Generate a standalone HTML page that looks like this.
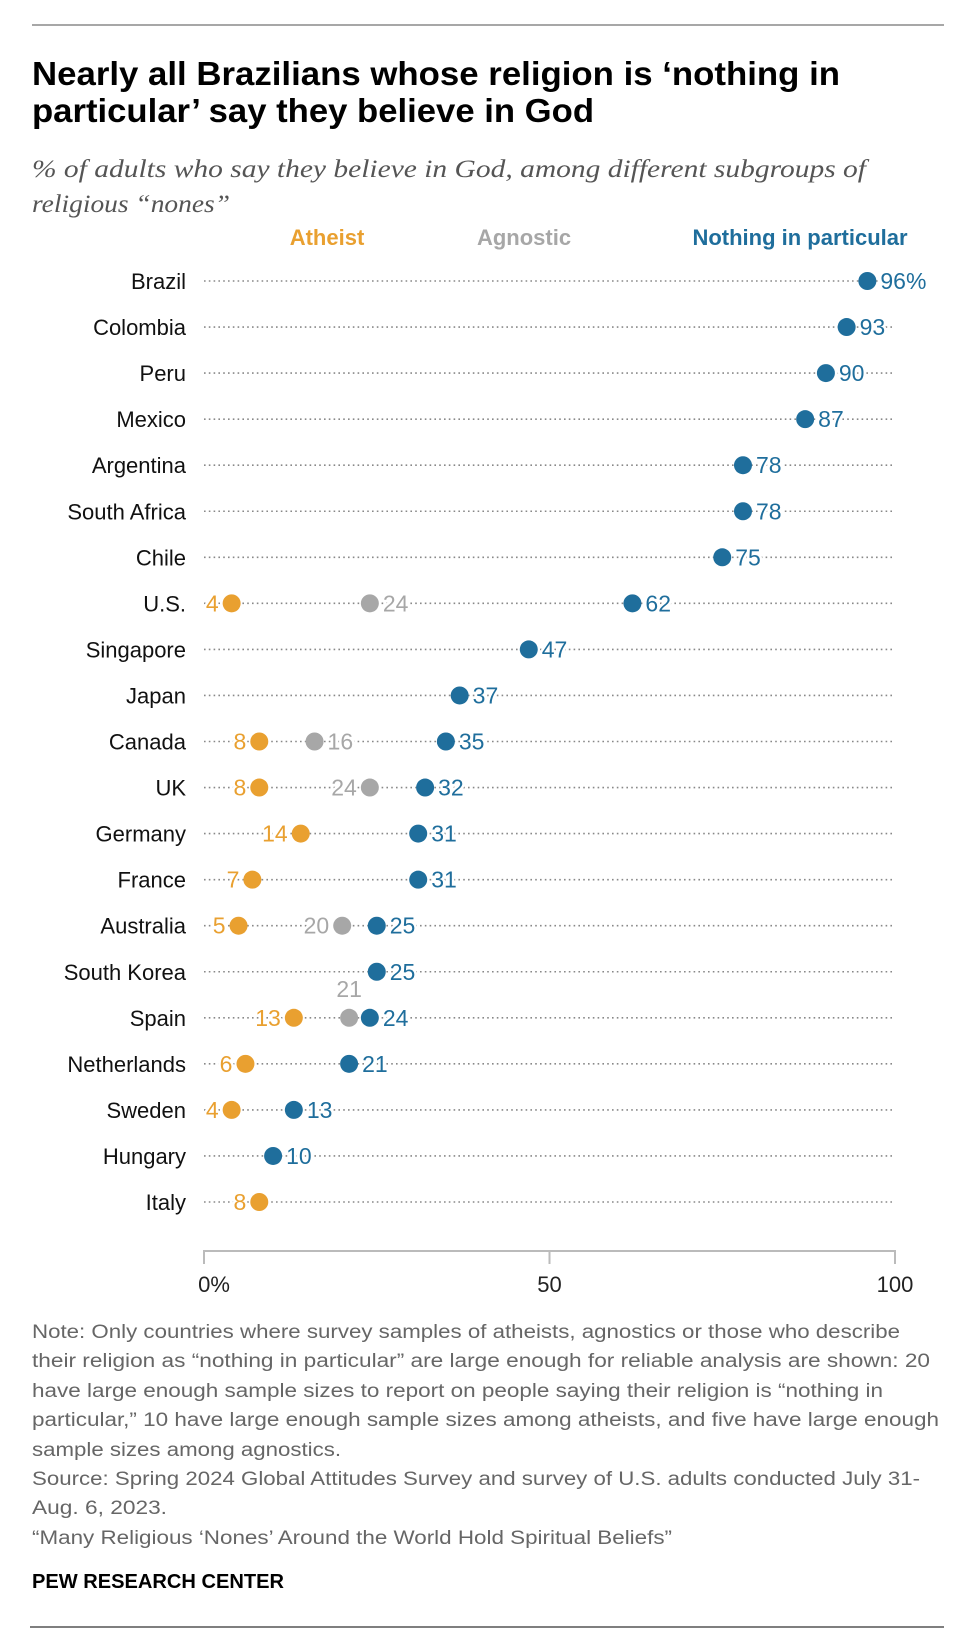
<!DOCTYPE html>
<html><head><meta charset="utf-8">
<style>
html,body{margin:0;padding:0;background:#fff;}
svg{display:block;}
text{font-family:"Liberation Sans",sans-serif;}
</style></head>
<body>
<svg id="chart" width="974" height="1646" viewBox="0 0 974 1646" xmlns="http://www.w3.org/2000/svg">
  <line x1="32" y1="25" x2="944" y2="25" stroke="#8a8a8a" stroke-width="1.5"/>
  <g>
    <text x="32" y="85" font-size="33" font-weight="bold" fill="#000" textLength="808" lengthAdjust="spacingAndGlyphs">Nearly all Brazilians whose religion is ‘nothing in</text>
    <text x="32" y="122" font-size="33" font-weight="bold" fill="#000" textLength="562" lengthAdjust="spacingAndGlyphs">particular’ say they believe in God</text>
  </g>
  <g font-style="italic" fill="#555">
    <text x="32" y="177" font-size="25" style="font-family:'Liberation Serif',serif" textLength="834" lengthAdjust="spacingAndGlyphs">% of adults who say they believe in God, among different subgroups of</text>
    <text x="32" y="212" font-size="25" style="font-family:'Liberation Serif',serif" textLength="198" lengthAdjust="spacingAndGlyphs">religious “nones”</text>
  </g>
  <g font-size="22" font-weight="bold" text-anchor="middle">
    <text x="327" y="245" fill="#e9a030">Atheist</text>
    <text x="524" y="245" fill="#a7a7a7">Agnostic</text>
    <text x="800" y="245" fill="#1f6e9c">Nothing in particular</text>
  </g>
  <g id="rows"></g>
  <g id="axis"></g>
  <g font-size="19" fill="#666">
    <text x="32" y="1338" textLength="868" lengthAdjust="spacingAndGlyphs">Note: Only countries where survey samples of atheists, agnostics or those who describe</text>
    <text x="32" y="1367" textLength="898" lengthAdjust="spacingAndGlyphs">their religion as “nothing in particular” are large enough for reliable analysis are shown: 20</text>
    <text x="32" y="1397" textLength="851" lengthAdjust="spacingAndGlyphs">have large enough sample sizes to report on people saying their religion is “nothing in</text>
    <text x="32" y="1426" textLength="907" lengthAdjust="spacingAndGlyphs">particular,” 10 have large enough sample sizes among atheists, and five have large enough</text>
    <text x="32" y="1456" textLength="309" lengthAdjust="spacingAndGlyphs">sample sizes among agnostics.</text>
    <text x="32" y="1485" textLength="888" lengthAdjust="spacingAndGlyphs">Source: Spring 2024 Global Attitudes Survey and survey of U.S. adults conducted July 31-</text>
    <text x="32" y="1514" textLength="135" lengthAdjust="spacingAndGlyphs">Aug. 6, 2023.</text>
    <text x="32" y="1544" textLength="640" lengthAdjust="spacingAndGlyphs">“Many Religious ‘Nones’ Around the World Hold Spiritual Beliefs”</text>
  </g>
  <text x="32" y="1588" font-size="20" font-weight="bold" fill="#000" textLength="252" lengthAdjust="spacingAndGlyphs">PEW RESEARCH CENTER</text>
  <line x1="30" y1="1627" x2="944" y2="1627" stroke="#555" stroke-width="1.5"/>
</svg>
<script>
const countries = ["Brazil","Colombia","Peru","Mexico","Argentina","South Africa","Chile","U.S.","Singapore","Japan","Canada","UK","Germany","France","Australia","South Korea","Spain","Netherlands","Sweden","Hungary","Italy"];
const nothingValues = [96,93,90,87,78,78,75,62,47,37,35,32,31,31,25,25,24,21,13,10,null];
const atheistValues = [null,null,null,null,null,null,null,4,null,null,8,8,14,7,5,null,13,6,4,null,8];
const agnosticValues = [null,null,null,null,null,null,null,24,null,null,16,24,null,null,20,null,21,null,null,null,null];
const agnosticLabelSide = [null,null,null,null,null,null,null,"right",null,null,"right","left",null,null,"left",null,"top",null,null,null,null];
const tickValues = [0,50,100];
const tickLabels = ["0%","50","100"];

const NS = "http://www.w3.org/2000/svg";
const X0 = 204, X1 = 895, Y0 = 281, ROWH = 46.05, R = 9;
const xScale = v => X0 + (X1 - X0) * v / 100;
const yScale = i => Y0 + i * ROWH;
const COL = {a:"#e9a030", g:"#a7a7a7", n:"#1f6e9c"};

function mk(tag, attrs, parent){
  const el = document.createElementNS(NS, tag);
  for (const k in attrs) el.setAttribute(k, attrs[k]);
  parent.appendChild(el);
  return el;
}
const rows = document.getElementById("rows");
function label(txt, x, y, anchor, color, parent){
  const t = mk("text", {x:x, y:y+8, "text-anchor":anchor, "font-size":23, fill:color, stroke:"#fff", "stroke-width":5, "paint-order":"stroke", "stroke-linejoin":"round"}, parent);
  t.textContent = txt;
  return t;
}
countries.forEach((c, i) => {
  const y = yScale(i);
  const g = mk("g", {}, rows);
  
  
  const ln = mk("line", {x1:X0, y1:y, x2:X1, y2:y, stroke:"#888", "stroke-width":1.6, "stroke-dasharray":"1.6 3.2"}, g);
  
  
  const cl = mk("text", {x:186, y:y+8, "text-anchor":"end", "font-size":22, fill:"#111"}, g);
  cl.textContent = c;
  
  
  const labels = mk("g", {}, g);
  
  
  if (atheistValues[i] != null) {
    const x = xScale(atheistValues[i]);
    const d = mk("circle", {cx:x, cy:y, r:R, fill:COL.a}, g);
    
    
    label(String(atheistValues[i]), x - R - 4, y, "end", COL.a, labels);
  }
  if (agnosticValues[i] != null) {
    const x = xScale(agnosticValues[i]);
    const d = mk("circle", {cx:x, cy:y, r:R, fill:COL.g}, g);
    
    
    const side = agnosticLabelSide[i];
    if (side === "right") label(String(agnosticValues[i]), x + R + 4, y, "start", COL.g, labels);
    else if (side === "left") label(String(agnosticValues[i]), x - R - 4, y, "end", COL.g, labels);
    else label(String(agnosticValues[i]), x, y - 29, "middle", COL.g, labels);
  }
  if (nothingValues[i] != null) {
    const x = xScale(nothingValues[i]);
    const d = mk("circle", {cx:x, cy:y, r:R, fill:COL.n}, g);
    
    
    label(String(nothingValues[i]) + (i === 0 ? "%" : ""), x + R + 4, y, "start", COL.n, labels);
  }
});
const axis = document.getElementById("axis");
const al = mk("line", {x1:X0, y1:1251, x2:X1, y2:1251, stroke:"#bbb", "stroke-width":2}, axis);


tickValues.forEach((v, i) => {
  const x = xScale(v);
  const tk = mk("line", {x1:x, y1:1250, x2:x, y2:1264, stroke:"#bbb", "stroke-width":2}, axis);
  
  
  const t = mk("text", {x: x + (i === 0 ? 10 : 0), y:1292, "text-anchor":"middle", "font-size":22, fill:"#222"}, axis);
  t.textContent = tickLabels[i];
  
  
});
</script>
</body></html>
